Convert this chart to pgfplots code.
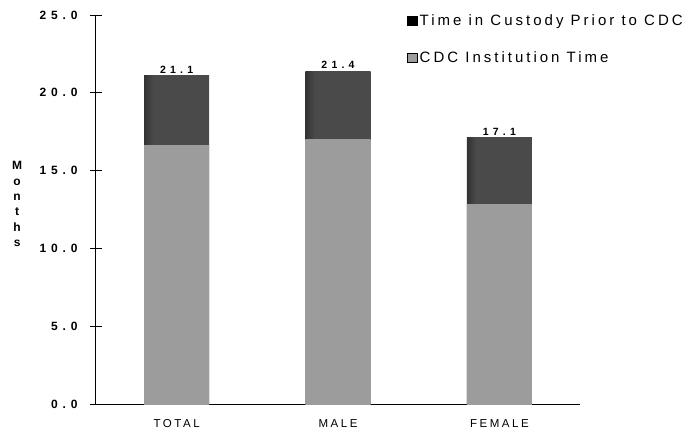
\documentclass[border=0pt]{standalone}
\usepackage{fontspec}
\setmainfont{Liberation Sans}
\newfontfamily\tickfont[LetterSpace=40]{Liberation Sans Bold}
\newfontfamily\catfont[LetterSpace=22]{Liberation Sans}
\newfontfamily\legfont[LetterSpace=20]{Liberation Sans}
\usepackage{pgfplots}
\pgfplotsset{compat=1.18}
\definecolor{lowfill}{HTML}{9C9C9C}
\definecolor{topfill}{HTML}{4A4A4A}
\pgfdeclarehorizontalshading{topshade}{100bp}{color(0bp)=(black); color(10bp)=(black); color(32bp)=(topfill); color(100bp)=(topfill)}
\pgfdeclarehorizontalshading{lowshade}{100bp}{color(0bp)=(black); color(2.5bp)=(black); color(5bp)=(lowfill); color(100bp)=(lowfill)}
\begin{document}
\begin{tikzpicture}
\begin{axis}[
  scale only axis,
  width=484pt, height=389pt,
  xmin=-0.5, xmax=2.5,
  ymin=0, ymax=25,
  axis x line=bottom, axis y line=left,
  axis line style={-, black, line width=1pt},
  ybar, bar shift=0pt,
  bar width=65pt,
  xtick={0,1,2},
  xticklabels={TOTAL,MALE,FEMALE},
  x tick label style={font=\catfont\fontsize{11.5}{13}\selectfont, yshift=-6pt},
  major x tick style={draw=none},
  extra x ticks={-0.5,0.5,1.5,2.5},
  extra x tick labels={},
  extra x tick style={major tick length=9pt, tick align=center, tick style={black, line width=0.8pt}},
  ytick={0,5,10,15,20,25},
  yticklabel={\pgfmathprintnumber[fixed,fixed zerofill,precision=1]{\tick}},
  /pgf/number format/assume math mode=true,
  y tick label style={font=\tickfont\fontsize{12}{13}\selectfont, xshift=-9pt},
  major y tick style={black, line width=0.8pt},
  major tick length=12pt,
  tick align=center,
  legend style={draw=none, fill=none, at={(axis description cs:0.6426,1.0077)}, anchor=north west,
    font=\legfont\fontsize{15}{17}\selectfont, row sep=21pt, inner sep=0pt,
    /tikz/every even column/.append style={column sep=3pt}},
  legend cell align=left,
  clip=false,
  totbar/.style={shading=topshade, draw=none, forget plot, bar shift=0pt,
    nodes near coords,
    nodes near coords style={font=\tickfont\fontsize{10.5}{12}\selectfont, anchor=south, yshift=-1pt, text=black,
      /pgf/number format/fixed, /pgf/number format/fixed zerofill, /pgf/number format/precision=1}},
  lowbar/.style={shading=lowshade, draw=none, forget plot, bar shift=0pt},
]
% total heights (Time in Custody Prior to CDC stacked on CDC Institution Time)
\addplot[totbar] coordinates {(0,21.1)};
\addplot[totbar] coordinates {(1,21.4)};
\addplot[totbar] coordinates {(2,17.1)};
% CDC Institution Time
\addplot[lowbar] coordinates {(0,16.6)};
\addplot[lowbar] coordinates {(1,17.0)};
\addplot[lowbar] coordinates {(2,12.8)};
\addlegendimage{legend image code/.code={\fill[black] (0pt,-4.5pt) rectangle (10pt,4.5pt);}}
\addlegendentry{Time in Custody Prior to CDC}
\addlegendimage{legend image code/.code={\fill[lowfill,draw=black,line width=0.5pt] (0pt,-4.5pt) rectangle (10pt,4.5pt);}}
\addlegendentry{CDC Institution Time}
\node[font=\tickfont\fontsize{12}{15.4}\selectfont, align=center, inner sep=0pt] at (axis description cs:-0.163,0.514) {M\\o\\n\\t\\h\\s};
\coordinate (bl) at (axis description cs:-0.1983,-0.0771);
\coordinate (tr) at (axis description cs:1.2479,1.0386);
\end{axis}
\pgfresetboundingbox
\path (bl) rectangle (tr);
\end{tikzpicture}
\end{document}
